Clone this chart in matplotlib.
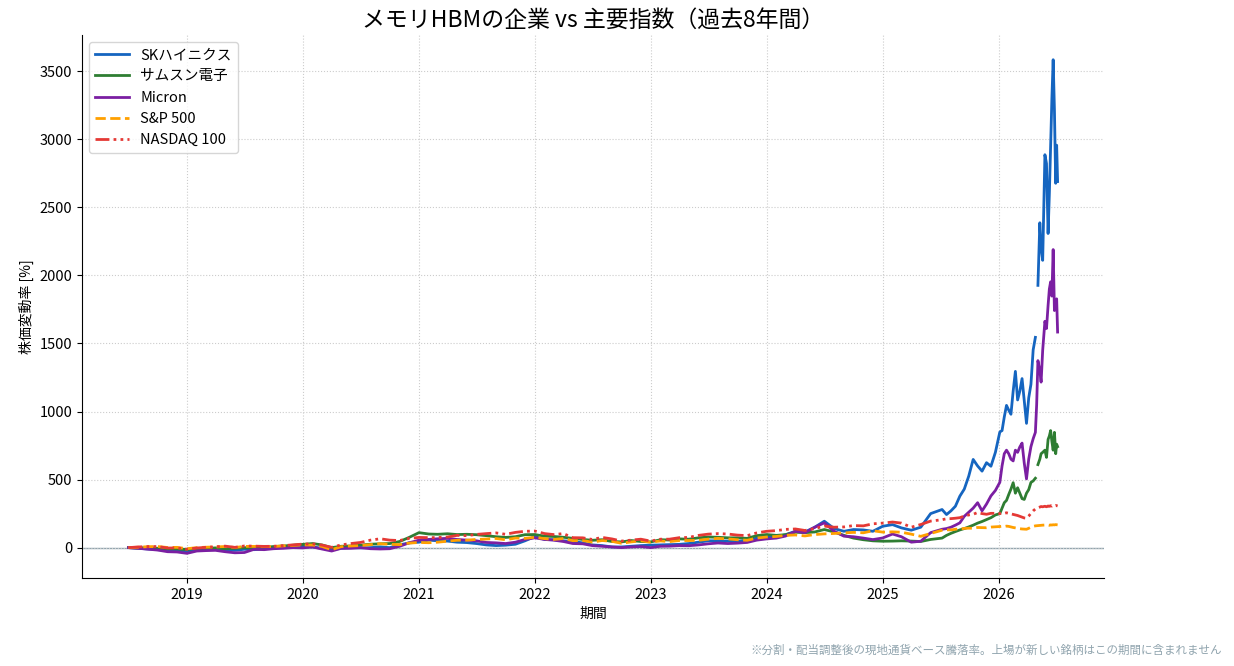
import matplotlib
matplotlib.use("Agg")
import matplotlib.pyplot as plt
import pandas as pd
import numpy as np

plt.rcParams['font.family'] = ['Noto Sans CJK JP', 'DejaVu Sans']
plt.rcParams['font.size'] = 10.5

# dates: monthly until mid-2025, then denser at the end
recent_dates = [
    "2025-07-07", "2025-07-21", "2025-08-04", "2025-08-18", "2025-09-01", "2025-09-15",
    "2025-09-29", "2025-10-13", "2025-10-27", "2025-11-10", "2025-11-24", "2025-12-08",
    "2025-12-22",
    "2026-01-05", "2026-01-12", "2026-01-19", "2026-01-26",
    "2026-02-02", "2026-02-09", "2026-02-16", "2026-02-23",
    "2026-03-02", "2026-03-09", "2026-03-16", "2026-03-23", "2026-03-30",
    "2026-04-06", "2026-04-13", "2026-04-20", "2026-04-27",
    "2026-05-01", "2026-05-05", "2026-05-11", "2026-05-15", "2026-05-20", "2026-05-27",
    "2026-06-01", "2026-06-06", "2026-06-10", "2026-06-14", "2026-06-18", "2026-06-22",
    "2026-06-26", "2026-06-30",
    "2026-07-03", "2026-07-06",
]
dates = list(pd.date_range("2018-07-01", "2025-06-01", freq="MS")) + list(pd.to_datetime(recent_dates))

sk_hynix = [
    0, -5, -10, -15, -18, -22,
    -30, -15, -12, -8, -15, -20, -12, -15, -10, -2, 5, 10,
    15, 5, -5, -15, -5, 0, -2, 0, 5, 0, 20, 35,
    40, 55, 50, 48, 40, 37, 30, 20, 15, 18, 25, 50,
    81, 60, 58, 50, 45, 35, 20, 15, 5, 5, 10, 15,
    18, 20, 22, 24, 30, 40, 50, 50, 48, 45, 55, 70,
    79, 80, 95, 120, 115, 150, 194, 140, 120, 133, 130, 120,
    157, 169, 145, 128, 150, 250,
    280, 243, 270, 304, 378, 430, 525, 648, 600, 562, 624, 598, 700,
    850, 860, 960, 1045, 1010, 980, 1150, 1295, 1085, 1150, 1242, 1080, 913,
    1100, 1200, 1453, 1545, None, 1927, 2387, 2200, 2111, 2887,
    2822, 2308, 2600, 2953, 3300, 3585, 3216, 2677, 2957, 2690,
]
samsung = [
    0, -2, 0, -5, -8, -10,
    -14, -5, -6, -2, -8, -5, 0, -5, 2, 8, 12, 18,
    25, 30, 20, 0, 10, 12, 18, 25, 28, 30, 45, 75,
    110, 100, 98, 102, 96, 98, 95, 88, 80, 75, 80, 95,
    96, 84, 82, 76, 68, 60, 54, 58, 45, 42, 52, 45,
    42, 58, 56, 64, 62, 72, 78, 76, 72, 72, 68, 88,
    96, 90, 95, 113, 110, 115, 133, 115, 90, 70, 58, 50,
    47, 48, 50, 48, 45, 60,
    70, 90, 105, 118, 130, 140, 152, 165, 180, 192, 206, 220, 240,
    250, 290, 330, 347, 390, 430, 477, 400, 440, 400, 360, 354, 400,
    426, 479, 490, 510, None, 610, 650, 690, 700, 716,
    663, 795, 820, 860, 780, 716, 847, 690, 760, 742,
]
micron = [
    0, -5, -12, -18, -30, -32,
    -42, -25, -22, -20, -30, -38, -36, -12, -15, -8, -5, 0,
    -2, 5, -10, -25, -5, -5, 0, -8, -10, -8, 10, 35,
    55, 60, 65, 68, 60, 55, 50, 38, 35, 30, 40, 60,
    72, 60, 55, 45, 30, 28, 15, 10, 5, 0, 5, 8,
    0, 10, 11, 15, 14, 20, 28, 34, 30, 33, 38, 55,
    64, 70, 85, 120, 110, 150, 182, 120, 84, 80, 70, 59,
    71, 100, 80, 40, 47, 110,
    135, 140, 150, 165, 182, 230, 260, 290, 330, 270, 320, 380, 420,
    480, 600, 690, 716, 690, 650, 637, 716, 700, 740, 768, 620, 505,
    650, 742, 800, 847, 1050, 1374, 1300, 1216, 1450, 1663,
    1610, 1780, 1900, 1953, 1848, 2190, 1742, 1769, 1828, 1584,
]
sp500 = [
    0, 3, 7, 8, 1, 2,
    -8, 0, 3, 5, 8, 1, 9, 9, 8, 8, 13, 16,
    20, 19, 9, -15, 7, 12, 15, 22, 29, 24, 22, 33,
    38, 36, 40, 47, 54, 55, 60, 63, 67, 58, 70, 68,
    76, 66, 60, 67, 51, 52, 40, 52, 46, 32, 42, 50,
    40, 49, 44, 52, 52, 54, 62, 68, 64, 58, 54, 70,
    78, 82, 90, 93, 86, 96, 101, 104, 108, 112, 109, 124,
    114, 116, 113, 99, 83, 104,
    128, 131, 130, 135, 137, 141, 143, 142, 148, 147, 146, 151, 153,
    155, 157, 155, 158, 156, 152, 148, 145, 142, 139, 137, 136, 135,
    142, 150, 156, 160, 161, 162, 163, 164, 165, 166,
    165, 166, 164, 167, 166, 168, 167, 169, 168, 167,
]
nasdaq100 = [
    0, 5, 8, 8, -3, -2,
    -12, -3, 2, 6, 11, 2, 12, 11, 9, 10, 15, 20,
    26, 28, 19, 2, 20, 30, 38, 55, 65, 55, 52, 68,
    75, 73, 74, 78, 90, 88, 97, 103, 108, 98, 112, 120,
    122, 103, 96, 103, 73, 72, 60, 75, 64, 48, 55, 62,
    48, 62, 62, 73, 75, 90, 99, 103, 100, 92, 88, 108,
    120, 125, 134, 137, 126, 140, 158, 150, 152, 162, 160, 175,
    180, 188, 180, 150, 170, 195,
    205, 212, 213, 216, 220, 232, 240, 245, 258, 250, 245, 252, 252,
    250, 255, 252, 256, 252, 248, 244, 240, 236, 230, 224, 218, 216,
    232, 252, 270, 284, 290, 293, 298, 302, 300, 304,
    300, 306, 303, 308, 305, 312, 307, 310, 308, 306,
]

df = pd.DataFrame({
    "SKハイニクス": sk_hynix,
    "サムスン電子": samsung,
    "Micron": micron,
    "S&P 500": sp500,
    "NASDAQ 100": nasdaq100,
}, index=pd.DatetimeIndex(dates), dtype=float)

styles = {
    "SKハイニクス": dict(color="#1565C0", ls="-"),
    "サムスン電子": dict(color="#2E7D32", ls="-"),
    "Micron": dict(color="#7B1FA2", ls="-"),
    "S&P 500": dict(color="#FFA000", ls="--"),
    "NASDAQ 100": dict(color="#E53935", ls=(0, (5, 1.5, 1, 1.5, 1, 1.5))),
}

fig, ax = plt.subplots(figsize=(12.34, 6.66), dpi=100)
fig.subplots_adjust(left=0.0665, right=0.8947, top=0.9474, bottom=0.1321)

for name in df.columns:
    ax.plot(df.index, df[name], lw=2, label=name, **styles[name])

ax.axhline(0, color="#90A4AE", lw=1, zorder=0)
ax.grid(True, ls=":", color="#cccccc", lw=0.8)
ax.spines["top"].set_visible(False)
ax.spines["right"].set_visible(False)

ax.set_title("メモリHBMの企業 vs 主要指数（過去8年間）", fontsize=16.5)
ax.set_xlabel("期間", fontsize=10)
ax.set_ylabel("株価変動率 [%]", fontsize=10)
ax.legend(loc="upper left", handlelength=2.3)

fig.text(0.99, 0.024, "※分割・配当調整後の現地通貨ベース騰落率。上場が新しい銘柄はこの期間に含まれません",
         ha="right", va="center", fontsize=8.3, color="#90A4AE")

fig.savefig("out.png")
